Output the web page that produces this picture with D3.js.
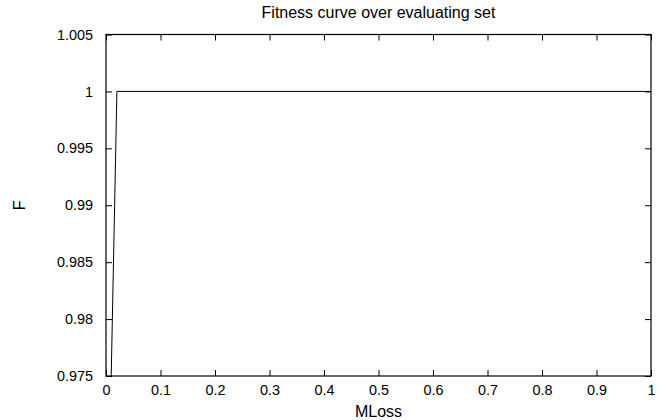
<!DOCTYPE html>
<html>
<head>
<meta charset="utf-8">
<script src="https://cdn.jsdelivr.net/npm/d3@7"></script>
<style>
  body { margin: 0; background: #fff; }
  svg text { font-family: "Liberation Sans", Arial, sans-serif; fill: #000; }
</style>
</head>
<body>
<script>
// data
var mloss = [0, 0.02, 1];
var fitness = [0.952, 1, 1];

var xTicks = [0, 0.1, 0.2, 0.3, 0.4, 0.5, 0.6, 0.7, 0.8, 0.9, 1];
var xTickLabels = ['0', '0.1', '0.2', '0.3', '0.4', '0.5', '0.6', '0.7', '0.8', '0.9', '1'];
var yTicks = [0.975, 0.98, 0.985, 0.99, 0.995, 1, 1.005];
var yTickLabels = ['0.975', '0.98', '0.985', '0.99', '0.995', '1', '1.005'];

var width = 670;
var height = 420;
// plot frame (window.top is reserved, so use other names)
var plotLeft = 106, plotRight = 651, plotTop = 34.5, plotBottom = 376;

var svg = d3.select('body')
    .append('svg')
    .attr('width', width)
    .attr('height', height);

var x = d3.scaleLinear().domain([0, 1]).range([plotLeft, plotRight]);
var y = d3.scaleLinear().domain([0.975, 1.005]).range([plotBottom, plotTop]);

// clip the curve to the frame, like gnuplot does
svg.append('clipPath')
    .attr('id', 'plotclip')
    .append('rect')
    .attr('x', plotLeft)
    .attr('y', plotTop)
    .attr('width', plotRight - plotLeft)
    .attr('height', plotBottom - plotTop);

var tickFont = '14.4px';
var labelFont = '16px';

// bottom axis with labels, ticks pointing inward
var xAxis = d3.axisBottom(x)
    .tickValues(xTicks)
    .tickFormat(function (d, i) { return xTickLabels[i]; })
    .tickSizeInner(-6)
    .tickSizeOuter(0)
    .tickPadding(9);

var gx = svg.append('g')
    .attr('transform', 'translate(0,' + plotBottom + ')')
    .call(xAxis);

var yAxis = d3.axisLeft(y)
    .tickValues(yTicks)
    .tickFormat(function (d, i) { return yTickLabels[i]; })
    .tickSizeInner(-6)
    .tickSizeOuter(0)
    .tickPadding(13);

var gy = svg.append('g')
    .attr('transform', 'translate(' + plotLeft + ',0)')
    .call(yAxis);

// mirror ticks on top and right
var gxTop = svg.append('g')
    .attr('transform', 'translate(0,' + plotTop + ')')
    .call(d3.axisTop(x).tickValues(xTicks).tickFormat('').tickSizeInner(-6).tickSizeOuter(0));

var gyRight = svg.append('g')
    .attr('transform', 'translate(' + plotRight + ',0)')
    .call(d3.axisRight(y).tickValues(yTicks).tickFormat('').tickSizeInner(-6).tickSizeOuter(0));

[gx, gy, gxTop, gyRight].forEach(function (g) {
    g.select('.domain').remove();
    g.selectAll('.tick line').attr('stroke', '#000').attr('stroke-width', 1);
    g.selectAll('.tick text')
        .style('font-size', tickFont)
        .style('font-family', '"Liberation Sans", Arial, sans-serif');
});

// frame
svg.append('rect')
    .attr('x', plotLeft)
    .attr('y', plotTop)
    .attr('width', plotRight - plotLeft)
    .attr('height', plotBottom - plotTop)
    .attr('fill', 'none')
    .attr('stroke', '#000')
    .attr('stroke-width', 1.2);

// fitness curve
var line = d3.line()
    .x(function (d, i) { return x(mloss[i]); })
    .y(function (d) { return y(d); });

svg.append('path')
    .datum(fitness)
    .attr('clip-path', 'url(#plotclip)')
    .attr('d', line)
    .attr('fill', 'none')
    .attr('stroke', '#000')
    .attr('stroke-width', 1);

// title and axis labels
svg.append('text')
    .attr('x', (plotLeft + plotRight) / 2)
    .attr('y', 18)
    .attr('text-anchor', 'middle')
    .style('font-size', labelFont)
    .text('Fitness curve over evaluating set');

svg.append('text')
    .attr('x', (plotLeft + plotRight) / 2)
    .attr('y', 417)
    .attr('text-anchor', 'middle')
    .style('font-size', labelFont)
    .text('MLoss');

svg.append('text')
    .attr('transform', 'translate(25,' + (plotTop + plotBottom) / 2 + ') rotate(-90)')
    .attr('text-anchor', 'middle')
    .style('font-size', labelFont)
    .text('F');
</script>
</body>
</html>
